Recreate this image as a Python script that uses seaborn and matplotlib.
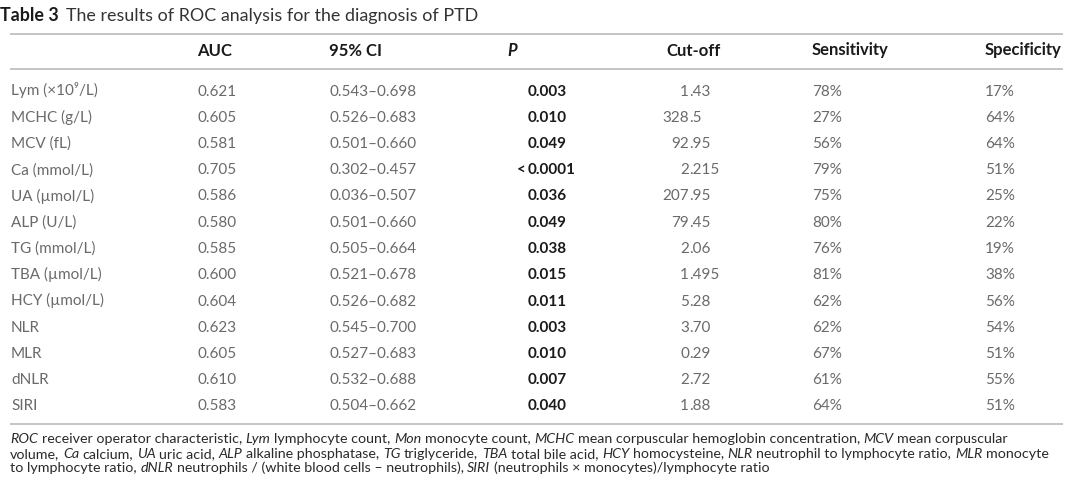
import matplotlib
matplotlib.use('Agg')
import matplotlib.pyplot as plt
import numpy as np
import pandas as pd
import seaborn as sns

sns.set_theme(style='white')
plt.rcParams['font.family'] = ['Lato', 'DejaVu Sans']

# table values
row_labels = ['Lym (×10⁹/L)', 'MCHC (g/L)', 'MCV (fL)', 'Ca (mmol/L)', 'UA (µmol/L)',
              'ALP (U/L)', 'TG (mmol/L)', 'TBA (µmol/L)', 'HCY (µmol/L)',
              'NLR', 'MLR', 'dNLR', 'SIRI']
auc = [0.621, 0.605, 0.581, 0.705, 0.586, 0.580, 0.585, 0.600, 0.604, 0.623, 0.605, 0.610, 0.583]
ci_low = [0.543, 0.526, 0.501, 0.302, 0.036, 0.501, 0.505, 0.521, 0.526, 0.545, 0.527, 0.532, 0.504]
ci_high = [0.698, 0.683, 0.660, 0.457, 0.507, 0.660, 0.664, 0.678, 0.682, 0.700, 0.683, 0.688, 0.662]
p_values = ['0.003', '0.010', '0.049', '<0.0001', '0.036', '0.049', '0.038',
            '0.015', '0.011', '0.003', '0.010', '0.007', '0.040']
cutoff = ['1.43', '328.5', '92.95', '2.215', '207.95', '79.45', '2.06',
          '1.495', '5.28', '3.70', '0.29', '2.72', '1.88']
sensitivity = [78, 27, 56, 79, 75, 80, 76, 81, 62, 62, 67, 61, 64]
specificity = [17, 64, 64, 51, 25, 22, 19, 38, 56, 54, 51, 55, 51]

headers = ['AUC', '95% CI', 'P', 'Cut-off', 'Sensitivity', 'Specificity']

title_bold = 'Table 3'
title_text = 'The results of ROC analysis for the diagnosis of PTD'

footnote = [
    '*ROC* receiver operator characteristic, *Lym* lymphocyte count, *Mon* monocyte count, '
    '*MCHC* mean corpuscular hemoglobin concentration, *MCV* mean corpuscular',
    'volume, *Ca* calcium, *UA* uric acid, *ALP* alkaline phosphatase, *TG* triglyceride, '
    '*TBA* total bile acid, *HCY* homocysteine, *NLR* neutrophil to lymphocyte ratio, *MLR* monocyte',
    'to lymphocyte ratio, *dNLR* neutrophils / (white blood cells \u2013 neutrophils), '
    '*SIRI* (neutrophils × monocytes)/lymphocyte ratio',
]

df = pd.DataFrame({'label': row_labels, 'auc': auc, 'ci_low': ci_low, 'ci_high': ci_high,
                   'p': p_values, 'cutoff': cutoff, 'sens': sensitivity, 'spec': specificity})

# layout (pixels)
W, H = 1080, 492
BODY_SIZE = 11
HEAD_SIZE = 12
TITLE_SIZE = 12.9
NOTE_SIZE = 10.3
BODY_COLOR = '#6a6a6a'
HEAD_COLOR = '#1a1a1a'
RULE_COLOR = '#b4b4b4'

X_LABEL = 11
X_AUC = 197
X_CI = 329
X_P = 528
X_CUT_DEC = 689
X_CUT_HEAD = 666
X_SENS = 812
X_SPEC = 985
X_RULE = (10, 1063)

Y_TITLE = 15
Y_HEAD = 50
Y_ROW0 = 90
ROW_STEP = 26.25
Y_RULES = [34, 69, 424]
Y_NOTE = [439, 454, 468]
BASE = 5.5  # baseline offset from visual centre

fig = plt.figure(figsize=(W / 100, H / 100), dpi=100)
ax = fig.add_axes([0, 0, 1, 1])
ax.set_xlim(0, W)
ax.set_ylim(H, 0)
ax.axis('off')
renderer = fig.canvas.get_renderer()


def put(x, y, s, **kw):
    return ax.text(x, y, s, va='baseline', **kw)


def width_of(t):
    return t.get_window_extent(renderer).width


def space_width(**kw):
    a = ax.text(0, 0, 'a a', **kw)
    b = ax.text(0, 0, 'aa', **kw)
    w = width_of(a) - width_of(b)
    a.remove()
    b.remove()
    return w


def draw_runs(x, y, line, size, color):
    # *...* marks an italic run; spaces at run edges are added by hand
    gap = space_width(fontsize=size)
    for i, part in enumerate(line.split('*')):
        style = 'italic' if i % 2 else 'normal'
        x += (len(part) - len(part.lstrip(' '))) * gap
        core = part.strip(' ')
        if core:
            t = put(x, y, core, fontsize=size, fontstyle=style, color=color, ha='left')
            x += width_of(t)
        x += (len(part) - len(part.rstrip(' '))) * gap


# title
t = put(0, Y_TITLE + 6, title_bold, fontsize=TITLE_SIZE, fontweight='bold', color=HEAD_COLOR)
put(width_of(t) + 7, Y_TITLE + 6, title_text, fontsize=TITLE_SIZE, color='#333333')

# rules
ax.hlines(Y_RULES, X_RULE[0], X_RULE[1], color=RULE_COLOR, lw=1.1)

# header
head_x = [X_AUC, X_CI, X_P - 21, X_CUT_HEAD, X_SENS, X_SPEC]
for hx, h in zip(head_x, headers):
    put(hx, Y_HEAD + BASE, h, fontsize=HEAD_SIZE, fontweight='bold', color=HEAD_COLOR,
        fontstyle='italic' if h == 'P' else 'normal')

# body rows
body = dict(fontsize=BODY_SIZE, color=BODY_COLOR, fontweight='normal')
for i, r in df.iterrows():
    y = Y_ROW0 + i * ROW_STEP + BASE
    put(X_LABEL, y, r['label'], **body)
    put(X_AUC, y, f"{r['auc']:.3f}", **body)
    put(X_CI, y, f"{r['ci_low']:.3f}\u2013{r['ci_high']:.3f}", **body)
    p = r['p']
    if p.startswith('<'):
        put(X_P - 2, y, '<', ha='right', fontsize=BODY_SIZE, fontweight='bold', color=HEAD_COLOR)
        p = p[1:]
    put(X_P, y, p, fontsize=BODY_SIZE, fontweight='bold', color=HEAD_COLOR)
    whole, frac = r['cutoff'].split('.')
    put(X_CUT_DEC, y, whole, ha='right', **body)
    put(X_CUT_DEC, y, '.' + frac, ha='left', **body)
    put(X_SENS, y, f"{r['sens']}%", **body)
    put(X_SPEC, y, f"{r['spec']}%", **body)

# footnote
for yy, line in zip(Y_NOTE, footnote):
    draw_runs(X_LABEL - 1, yy + 4, line, NOTE_SIZE, '#2a2a2a')

fig.savefig('out.png', dpi=100, facecolor='white')
